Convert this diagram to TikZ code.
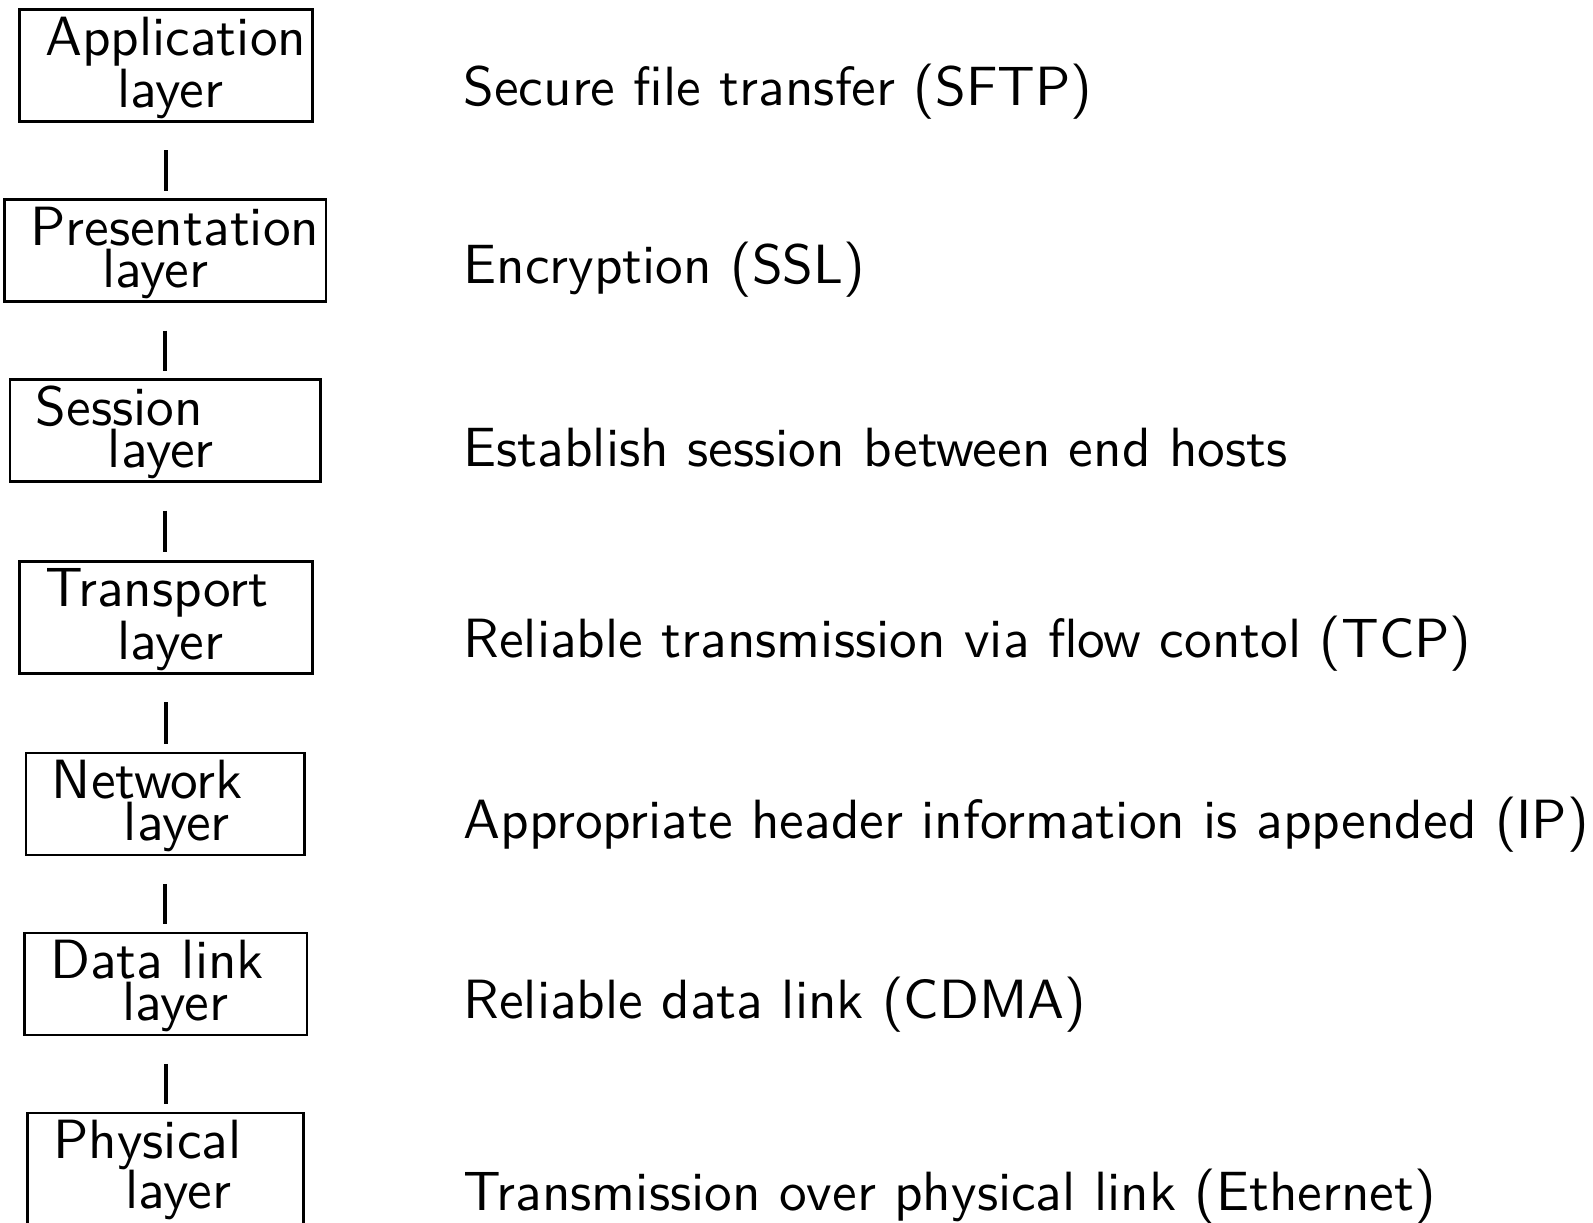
\documentclass[tikz,border=0pt]{standalone}
\usepackage{fontspec}
\setsansfont{lmsans10-regular.otf}
\lineskiplimit=-100pt
\begin{document}
\begin{tikzpicture}[x=0.3125pt, y=-0.3125pt,
  txt/.style={font=\fontsize{17.28}{12}\selectfont\sffamily},
  loose/.style={font=\fontsize{17.28}{#1}\selectfont\sffamily},
  layerbox/.style={txt, draw, line width=0.85pt, rectangle, anchor=base west,
    inner xsep=8.125pt, inner ysep=0pt, align=left, text height=14.2pt},
  desc/.style={txt, anchor=base west, inner sep=0pt},
  link/.style={line width=1.25pt, shorten <=8.6pt, shorten >=2.4pt}]
  \useasboundingbox (0,0) rectangle (1593,1222);

  % OSI layer boxes
  \node[layerbox, loose=15.125pt, text width=75.31pt, text depth=20.81pt] (app) at (18,55)
    {Application\\\hspace*{22.5pt}layer};
  \node[layerbox, text width=84.28pt, text depth=17.69pt] (pres) at (3,245)
    {Presentation\\\hspace*{22.5pt}layer};
  \node[layerbox, text width=80.88pt, text depth=17.69pt] (sess) at (8.6,425)
    {Session\\\hspace*{22.5pt}layer};
  \node[layerbox, loose=15.125pt, text width=75.31pt, text depth=20.81pt] (trans) at (18,606.7)
    {Transport\\\hspace*{22.5pt}layer};
  \node[layerbox, text width=70.75pt, text depth=17.69pt] (net) at (24.6,798.3)
    {Network\\\hspace*{22.5pt}layer};
  \node[layerbox, text width=72.09pt, text depth=17.69pt] (dlink) at (23,978.3)
    {Data link\\\hspace*{22.5pt}layer};
  \node[layerbox, loose=15.625pt, text width=70pt, text depth=21.31pt] (phys) at (26,1158.3)
    {Physical\\\hspace*{22.5pt}layer};

  % connectors between adjacent layers
  \foreach \a/\b in {app/pres, pres/sess, sess/trans, trans/net, net/dlink, dlink/phys}
    \draw[link] (\a.south) -- (\a.south |- \b.north);

  % descriptions
  \node[desc] (dapp)   at (463,105)    {Secure file transfer (SFTP)};
  \node[desc] (dpres)  at (463,283.5)  {Encryption (SSL)};
  \node[desc] (dsess)  at (463,466)    {Establish session between end hosts};
  \node[desc] (dtrans) at (463,657)    {Reliable transmission via flow contol (TCP)};
  \node[desc] (dnet)   at (463,838.5)  {Appropriate header information is appended (IP)};
  \node[desc] (ddlink) at (463,1018.5) {Reliable data link (CDMA)};
  \node[desc] (dphys)  at (463,1210)   {Transmission over physical link (Ethernet)};
\end{tikzpicture}
\end{document}
